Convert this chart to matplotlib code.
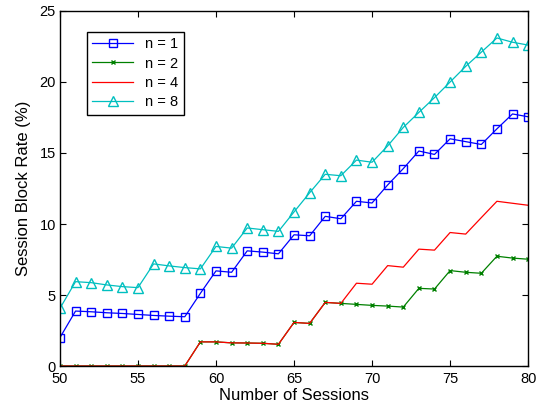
import numpy as np
import matplotlib
matplotlib.use('Agg')
import matplotlib.pyplot as plt

plt.rcParams['font.family'] = ['Liberation Sans', 'DejaVu Sans']

sessions = np.arange(50, 81)

n1 = [2.0, 3.87, 3.82, 3.75, 3.7, 3.63, 3.56, 3.51, 3.47, 5.12,
      6.7, 6.6, 8.11, 8.02, 7.9, 9.24, 9.17, 10.54, 10.37, 11.6,
      11.48, 12.75, 13.9, 15.14, 14.9, 16.0, 15.8, 15.6, 16.7, 17.75,
      17.55]
n2 = [0, 0, 0, 0, 0, 0, 0, 0, 0, 1.7,
      1.7, 1.63, 1.62, 1.6, 1.53, 3.07, 3.0, 4.48, 4.41, 4.34,
      4.27, 4.22, 4.15, 5.47, 5.42, 6.72, 6.6, 6.53, 7.73, 7.6,
      7.52]
n4 = [0, 0, 0, 0, 0, 0, 0, 0, 0, 1.7,
      1.7, 1.63, 1.62, 1.6, 1.53, 3.07, 3.0, 4.48, 4.41, 5.83,
      5.76, 7.07, 6.96, 8.23, 8.16, 9.4, 9.29, 10.45, 11.6, 11.46,
      11.32]
n8 = [4.06, 5.94, 5.87, 5.71, 5.59, 5.52, 7.19, 7.05, 6.93, 6.84,
      8.42, 8.3, 9.72, 9.6, 9.48, 10.85, 12.2, 13.5, 13.4, 14.5,
      14.35, 15.5, 16.8, 17.86, 18.9, 20.0, 21.1, 22.1, 23.1, 22.8,
      22.6]

fig = plt.figure(figsize=(5.4, 4.07), dpi=100)
ax = fig.add_axes([0.111, 0.1007, 0.867, 0.8723])

ax.plot(sessions, n1, 'b-', marker='s', markersize=6, mfc='none', mew=1, lw=0.9, label='n = 1')
ax.plot(sessions, n2, '-', color='g', marker='x', markersize=3, mew=1, lw=0.9, label='n = 2')
ax.plot(sessions, n4, 'r-', lw=0.9, label='n = 4')
ax.plot(sessions, n8, 'c-', marker='^', markersize=7, mfc='none', mew=1, lw=0.9, label='n = 8')

ax.set_xlim(50, 80)
ax.set_ylim(0, 25)
ax.set_xticks(np.arange(50, 81, 5))
ax.set_yticks(np.arange(0, 26, 5))
ax.tick_params(direction='in', top=True, right=True, length=4, labelsize=10.5)
ax.tick_params(axis='x', pad=4)
ax.tick_params(axis='y', pad=3)
for s in ax.spines.values():
    s.set_linewidth(1)

ax.set_xlabel('Number of Sessions', fontsize=12, labelpad=2)
ax.set_ylabel('Session Block Rate (%)', fontsize=12, labelpad=6)

leg = ax.legend(loc='upper left', bbox_to_anchor=(0.057, 0.942), fontsize=10.5,
                fancybox=False, edgecolor='black', framealpha=1,
                handlelength=2.8, labelspacing=0.35, borderpad=0.4,
                borderaxespad=0)
leg.get_frame().set_linewidth(1)

fig.savefig('out.png', dpi=100)
